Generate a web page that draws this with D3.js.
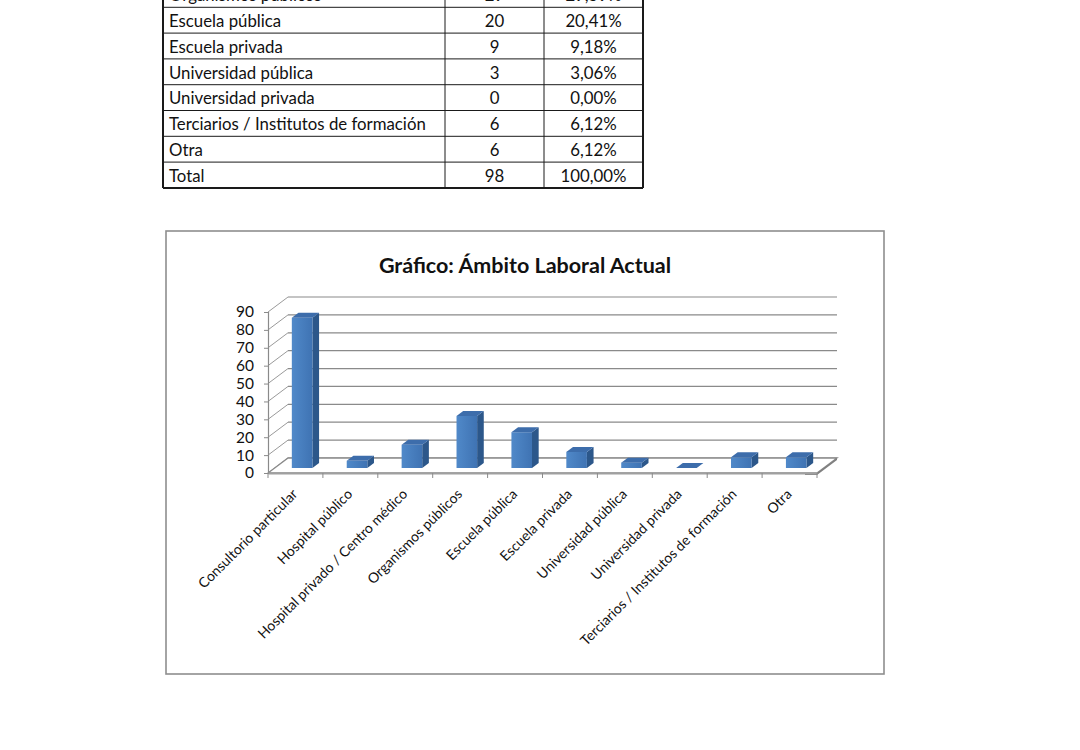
<!DOCTYPE html>
<html>
<head>
<meta charset="utf-8">
<script src="https://cdn.jsdelivr.net/npm/d3@7"></script>
<style>
  body { margin: 0; background: #fff; }
  svg { display: block; font-family: Lato, "Noto Sans", sans-serif; }
</style>
</head>
<body>
<div id="page"></div>
<script>
// table rows (first one is cut by the page edge)
var rowLabels = ["Organismos públicos", "Escuela pública", "Escuela privada", "Universidad pública",
    "Universidad privada", "Terciarios / Institutos de formación", "Otra", "Total"]
var rowCounts = [29, 20, 9, 3, 0, 6, 6, 98]
var rowPercents = ["29,59%", "20,41%", "9,18%", "3,06%", "0,00%", "6,12%", "6,12%", "100,00%"]

// chart data
var categories = ["Consultorio particular", "Hospital público", "Hospital privado / Centro médico",
    "Organismos públicos", "Escuela pública", "Escuela privada", "Universidad pública",
    "Universidad privada", "Terciarios / Institutos de formación", "Otra"]
var values = [84, 4, 13, 29, 20, 9, 3, 0, 6, 6]
var yTickValues = [0, 10, 20, 30, 40, 50, 60, 70, 80, 90]
var chartTitle = "Gráfico: Ámbito Laboral Actual"

var W = 1080, H = 750
var FONT = 'Lato, "Noto Sans", sans-serif'

var svg = d3.select('#page')
    .append('svg')
    .attr('width', W)
    .attr('height', H)

svg.append('rect').attr('width', W).attr('height', H).attr('fill', '#fff')

// ---------- table ----------
var tbl = { left: 163, c1: 445, c2: 544, right: 643, top: -18.5, rowH: 25.8 }
var table = svg.append('g').attr('class', 'table')
var tBottom = tbl.top + rowLabels.length * tbl.rowH

var rowIdx = d3.range(rowLabels.length)

table.selectAll('.hline')
    .data(d3.range(rowLabels.length + 1))
    .enter()
    .append('line')
    .attr('x1', tbl.left).attr('x2', tbl.right)
    .attr('y1', function(i){ return tbl.top + i * tbl.rowH })
    .attr('y2', function(i){ return tbl.top + i * tbl.rowH })
    .attr('stroke', '#1a1a1a')
    .attr('stroke-width', function(i){ return i == rowLabels.length ? 2 : 1 })

table.selectAll('.vline')
    .data([tbl.left, tbl.c1, tbl.c2, tbl.right])
    .enter()
    .append('line')
    .attr('x1', function(d){ return d }).attr('x2', function(d){ return d })
    .attr('y1', 0).attr('y2', tBottom)
    .attr('stroke', '#1a1a1a')
    .attr('stroke-width', function(d, i){ return (i == 0 || i == 3) ? 2 : 1 })

var rows = table.selectAll('.row')
    .data(rowIdx)
    .enter()
    .append('g')
    .attr('transform', function(i){ return 'translate(0,' + (tbl.top + i * tbl.rowH + tbl.rowH / 2 + 1) + ')' })

rows.append('text')
    .attr('x', tbl.left + 6)
    .attr('dy', '0.35em')
    .style('font-size', '16.8px')
    .attr('fill', '#111')
    .text(function(i){ return rowLabels[i] })

rows.append('text')
    .attr('x', (tbl.c1 + tbl.c2) / 2)
    .attr('dy', '0.35em')
    .style('font-size', '16.8px')
    .style('text-anchor', 'middle')
    .attr('fill', '#111')
    .text(function(i){ return rowCounts[i] })

rows.append('text')
    .attr('x', (tbl.c2 + tbl.right) / 2)
    .attr('dy', '0.35em')
    .style('font-size', '16.8px')
    .style('text-anchor', 'middle')
    .attr('fill', '#111')
    .text(function(i){ return rowPercents[i] })

// ---------- chart ----------
svg.append('rect')
    .attr('x', 166).attr('y', 231)
    .attr('width', 718).attr('height', 443)
    .attr('fill', '#fff')
    .attr('stroke', '#8e8e8e')
    .attr('stroke-width', 1.6)

svg.append('text')
    .attr('x', 525).attr('y', 273)
    .style('text-anchor', 'middle')
    .style('font-size', '21.5px')
    .style('font-weight', 'bold')
    .attr('fill', '#111')
    .text(chartTitle)

var plot = { left: 268, right: 817, bottom: 473, top: 312 }
var depth = { dx: 20, dy: -15 }

var x = d3.scaleBand().domain(categories).range([plot.left, plot.right])
var y = d3.scaleLinear().domain([0, 90]).range([plot.bottom, plot.top])

// oblique projection: d = 0 front plane, d = 1 back wall
function P(px, py, d) { return [px + depth.dx * d, py + depth.dy * d] }
function poly(pts) { return pts.map(function(p){ return p.join(',') }).join(' ') }

var g = svg.append('g').attr('class', 'plot')

// back wall gridlines
g.selectAll('.grid')
    .data(yTickValues)
    .enter()
    .append('line')
    .attr('x1', function(t){ return P(plot.left, y(t), 1)[0] })
    .attr('y1', function(t){ return P(plot.left, y(t), 1)[1] })
    .attr('x2', function(t){ return P(plot.right, y(t), 1)[0] })
    .attr('y2', function(t){ return P(plot.right, y(t), 1)[1] })
    .attr('stroke', '#8a8a8a')
    .attr('stroke-width', 1.2)

// side wall gridlines
g.selectAll('.sgrid')
    .data(yTickValues)
    .enter()
    .append('line')
    .attr('x1', plot.left)
    .attr('y1', function(t){ return y(t) })
    .attr('x2', function(t){ return P(plot.left, y(t), 1)[0] })
    .attr('y2', function(t){ return P(plot.left, y(t), 1)[1] })
    .attr('stroke', '#9a9a9a')
    .attr('stroke-width', 1)

// floor
g.append('polygon')
    .attr('points', poly([P(plot.left, y(0), 0), P(plot.right, y(0), 0), P(plot.right, y(0), 1), P(plot.left, y(0), 1)]))
    .attr('fill', '#fff')
    .attr('stroke', '#8a8a8a')
    .attr('stroke-width', 1.3)
g.append('polygon')
    .attr('points', poly([P(plot.right - 12, y(0), 0), P(plot.right, y(0), 0), P(plot.right, y(0), 1),
        P(plot.right, y(0) + 2, 1), P(plot.right, y(0) + 2, 0), P(plot.right - 12, y(0) + 2, 0)]))
    .attr('fill', '#7f7f7f')

var defs = svg.append('defs')
var grad = defs.append('linearGradient').attr('id', 'barFront')
    .attr('x1', '0').attr('x2', '1').attr('y1', '0').attr('y2', '0')
grad.append('stop').attr('offset', '0%').attr('stop-color', '#5089c9')
grad.append('stop').attr('offset', '100%').attr('stop-color', '#3f73b3')

var barW = x.bandwidth() * 0.375
var dFront = 1 / 3, dBack = 2 / 3

var bars = g.selectAll('.bar')
    .data(categories)
    .enter()
    .append('g')
    .attr('class', 'bar')

function corners(c, i) {
    var xl = x(c) + (x.bandwidth() - barW) / 2
    var xr = xl + barW
    var yt = y(values[i]), yb = y(0)
    return { xl: xl, xr: xr, yt: yt, yb: yb }
}

bars.append('polygon')  // right side
    .attr('points', function(c, i){
        var k = corners(c, i)
        return poly([P(k.xr, k.yt, dFront), P(k.xr, k.yt, dBack), P(k.xr, k.yb, dBack), P(k.xr, k.yb, dFront)])
    })
    .attr('fill', '#2c578a')

bars.append('polygon')  // front
    .attr('points', function(c, i){
        var k = corners(c, i)
        return poly([P(k.xl, k.yt, dFront), P(k.xr, k.yt, dFront), P(k.xr, k.yb, dFront), P(k.xl, k.yb, dFront)])
    })
    .attr('fill', 'url(#barFront)')

bars.append('polygon')  // top
    .attr('points', function(c, i){
        var k = corners(c, i)
        return poly([P(k.xl, k.yt, dFront), P(k.xr, k.yt, dFront), P(k.xr, k.yt, dBack), P(k.xl, k.yt, dBack)])
    })
    .attr('fill', '#3d6dab')

// y axis on the front left edge
var yAxis = d3.axisLeft(y).tickValues(yTickValues).tickSize(4).tickPadding(10)
var yg = svg.append('g')
    .attr('transform', 'translate(' + plot.left + ',0)')
    .call(yAxis)
    .attr('font-family', FONT)
yg.select('.domain').attr('stroke', '#8a8a8a').attr('stroke-width', 1.2)
yg.selectAll('.tick line').attr('stroke', '#8a8a8a')
yg.selectAll('text').style('font-size', '15.5px').attr('fill', '#111')

// x axis along the front floor edge
var xAxis = d3.axisBottom(x).tickSize(0).tickPadding(0)
var xg = svg.append('g')
    .attr('transform', 'translate(0,' + plot.bottom + ')')
    .call(xAxis)
    .attr('font-family', FONT)
xg.select('.domain').attr('stroke', '#a0a0a0').attr('stroke-width', 2)
xg.selectAll('.tick text')
    .attr('transform', 'translate(3,22) rotate(-45)')
    .attr('y', 0).attr('dy', 0)
    .style('text-anchor', 'end')
    .style('font-size', '14px')
    .attr('fill', '#111')

// category boundary ticks
xg.selectAll('.bound')
    .data(d3.range(categories.length + 1))
    .enter()
    .append('line')
    .attr('x1', function(i){ return plot.left + i * x.step() })
    .attr('x2', function(i){ return plot.left + i * x.step() })
    .attr('y1', 0).attr('y2', 5)
    .attr('stroke', '#8a8a8a')
</script>
</body>
</html>
